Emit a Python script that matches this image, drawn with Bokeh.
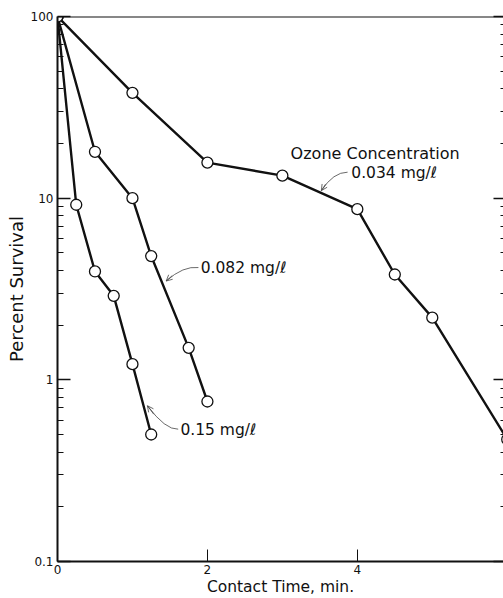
from bokeh.plotting import figure
from bokeh.models import (LinearAxis, FixedTicker, Label, Arrow, OpenHead, Span)
from bokeh.embed import file_html
from bokeh.resources import INLINE

# ---- data ----
t_034 = [0, 1, 2, 3, 4, 4.5, 5, 6]
s_034 = [100, 38, 15.7, 13.3, 8.7, 3.8, 2.2, 0.47]

t_082 = [0, 0.5, 1.0, 1.25, 1.75, 2.0]
s_082 = [100, 18.0, 10.0, 4.8, 1.5, 0.76]

t_15 = [0, 0.25, 0.5, 0.75, 1.0, 1.25]
s_15 = [100, 9.2, 3.95, 2.9, 1.22, 0.5]

x_ticks = [0, 2, 4, 6]
x_tick_labels = ["0", "2", "4", "6"]
y_ticks = [0.1, 1, 10, 100]
y_tick_labels = ["0.1", "1", "10", "100"]
y_minor = [m * d for d in (0.1, 1, 10) for m in range(2, 10)]

FONT = "DejaVu Sans"
INK = "#111111"

p = figure(width=503, height=598, x_range=(0, 5.95), y_range=(0.1, 100),
           y_axis_type="log", output_backend="svg", toolbar_location=None,
           min_border_left=57, min_border_right=0, min_border_top=16,
           min_border_bottom=36, background_fill_color="white",
           border_fill_color="white")
p.outline_line_color = None
p.xgrid.visible = False
p.ygrid.visible = False

# bottom axis
xa = p.xaxis[0]
xa.ticker = FixedTicker(ticks=x_ticks)
xa.major_label_overrides = {t: l for t, l in zip(x_ticks, x_tick_labels)}
xa.axis_line_width = 2
xa.axis_line_color = INK
xa.major_tick_in = 12
xa.major_tick_out = 0
xa.major_tick_line_color = INK
xa.minor_tick_line_color = None
xa.minor_tick_out = 0
xa.major_label_standoff = 3
xa.major_label_text_font = FONT
xa.major_label_text_font_size = "12px"
xa.major_label_text_color = INK
xa.axis_label = "Contact Time, min."
xa.axis_label_text_font = FONT
xa.axis_label_text_font_style = "normal"
xa.axis_label_text_font_size = "15.5px"
xa.axis_label_text_color = INK
xa.axis_label_standoff = 1

# left axis
ya = p.yaxis[0]
ya.ticker = FixedTicker(ticks=y_ticks, minor_ticks=y_minor)
ya.major_label_overrides = {t: l for t, l in zip(y_ticks, y_tick_labels)}
ya.axis_line_width = 2
ya.axis_line_color = INK
ya.major_tick_in = 13
ya.major_tick_out = 0
ya.minor_tick_in = 6
ya.minor_tick_out = 0
ya.major_tick_line_width = 1.3
ya.minor_tick_line_width = 1.2
ya.major_tick_line_color = INK
ya.minor_tick_line_color = INK
ya.major_label_standoff = 4
ya.major_label_text_font = FONT
ya.major_label_text_font_size = "12px"
ya.major_label_text_color = INK
ya.axis_label = "Percent Survival"
ya.axis_label_text_font = FONT
ya.axis_label_text_font_style = "normal"
ya.axis_label_text_font_size = "18px"
ya.axis_label_text_color = INK
ya.axis_label_standoff = 1

# right side: inward ticks only (no labels)
ra_major = LinearAxis(ticker=FixedTicker(ticks=[], minor_ticks=y_ticks),
                      axis_line_color=None, minor_tick_in=10, minor_tick_out=0,
                      minor_tick_line_color=INK, minor_tick_line_width=1.3,
                      major_tick_in=0, major_tick_out=0,
                      major_label_standoff=0, major_tick_line_color=None)
ra_minor = LinearAxis(ticker=FixedTicker(ticks=[], minor_ticks=y_minor),
                      axis_line_color=None, minor_tick_in=3, minor_tick_out=0,
                      minor_tick_line_color=INK, minor_tick_line_width=1.2,
                      major_tick_in=0, major_tick_out=0,
                      major_label_standoff=0, major_tick_line_color=None)
p.add_layout(ra_major, "right")
p.add_layout(ra_minor, "right")

# top border
p.add_layout(Span(location=100, dimension="width", line_color=INK, line_width=2))

# series
for t, s in [(t_034, s_034), (t_082, s_082), (t_15, s_15)]:
    p.line(t, s, line_width=2.4, line_color=INK)
    p.scatter(t, s, marker="circle", size=11, fill_color="white",
              line_color=INK, line_width=1.3)

# text annotations
def lab(x, y, text, size):
    p.add_layout(Label(x=x, y=y, text=text, text_font=FONT, text_font_size=size,
                       text_color=INK, text_baseline="middle", text_align="left"))

lab(3.11, 17.6, "Ozone Concentration", "16px")
lab(3.92, 13.75, "0.034 mg/\u2113", "15.5px")
lab(1.91, 4.12, "0.082 mg/\u2113", "15.5px")
lab(1.64, 0.53, "0.15 mg/\u2113", "15.5px")

# leader curves
def leader(x0, y0, cx, cy, x1, y1):
    p.quadratic(x0=[x0], y0=[y0], cx=[cx], cy=[cy], x1=[x1], y1=[y1],
                line_color="#444444", line_width=0.8)
    p.add_layout(Arrow(x_start=x1 + 0.35 * (cx - x1), y_start=y1 * (cy / y1) ** 0.35,
                       x_end=x1, y_end=y1, line_color="#444444", line_width=0.8,
                       end=OpenHead(size=6, line_width=0.8, line_color="#444444")))

leader(3.87, 13.9, 3.68, 13.9, 3.52, 11.0)
leader(1.88, 4.15, 1.68, 4.25, 1.45, 3.5)
leader(1.61, 0.535, 1.44, 0.53, 1.20, 0.72)

open("out.html", "w").write(file_html(p, INLINE))
